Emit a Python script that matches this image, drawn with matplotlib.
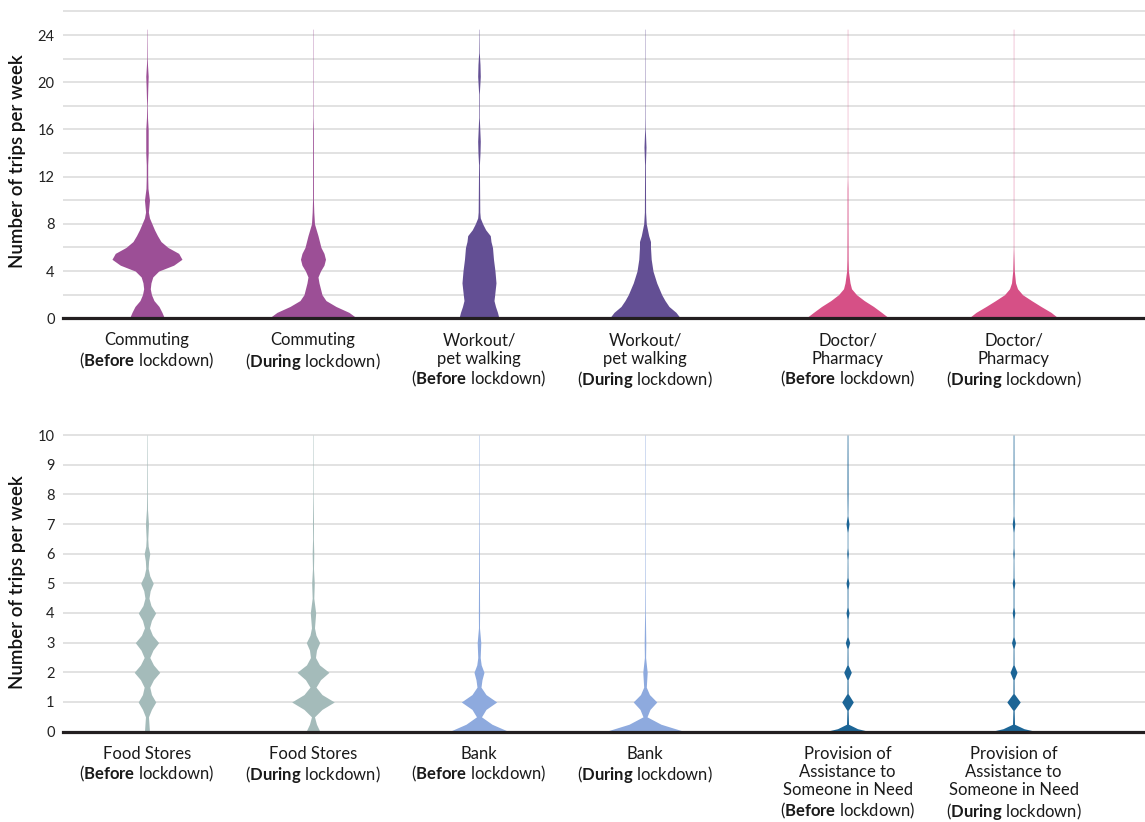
import matplotlib.pyplot as plt
from matplotlib.ticker import MultipleLocator

plt.rcParams["font.family"] = ["Lato", "DejaVu Sans"]
plt.rcParams["mathtext.fontset"] = "custom"
plt.rcParams["mathtext.rm"] = "Lato"
plt.rcParams["mathtext.bf"] = "Lato:bold"

# --- top row: commuting, workout / pet walking, doctor / pharmacy ---
top_labels = [
    "Commuting\n($\\mathbf{Before}$ lockdown)",
    "Commuting\n($\\mathbf{During}$ lockdown)",
    "Workout/\npet walking\n($\\mathbf{Before}$ lockdown)",
    "Workout/\npet walking\n($\\mathbf{During}$ lockdown)",
    "Doctor/\nPharmacy\n($\\mathbf{Before}$ lockdown)",
    "Doctor/\nPharmacy\n($\\mathbf{During}$ lockdown)",
]
top_colors = ["#9c4f96", "#9c4f96", "#634f94", "#634f94", "#d65086", "#d65086"]

# density outlines: trips per week and half-width of the violin
commute_before_y = [0, 0.5, 1, 1.5, 2, 2.5, 3, 3.5, 4, 4.5, 5, 5.5, 6, 6.5, 7, 7.5, 8,
                    8.5, 9, 10, 11, 12, 13, 14, 16, 17, 18, 19.5, 20.5, 21.5, 22, 24.5]
commute_before_w = [17.5, 15, 12, 7, 4.5, 3.3, 4, 5.8, 11.7, 26.7, 35, 31.7, 21, 14, 10.5, 7.5, 5,
                    2.5, 1.4, 2.5, 1, 0.7, 0.7, 1.2, 1.2, 0.5, 0.3, 0.8, 1.2, 0.5, 0.3, 0.15]

commute_during_y = [0, 0.5, 1, 1.5, 2, 3, 3.5, 4, 4.5, 5, 5.5, 6, 7, 8, 9, 10, 16, 17, 24.5]
commute_during_w = [44, 36, 23, 13, 9, 6, 5, 7.5, 11, 12.5, 11, 8, 5, 1.5, 0.8, 0.45, 0.4, 0.2, 0.15]

workout_before_y = [0, 0.5, 1, 1.5, 2, 3, 4, 5, 6, 6.5, 7, 7.5, 8, 8.5, 9, 13,
                    14, 15, 16, 17, 19, 20.5, 21.5, 22.5, 24.5]
workout_before_w = [20, 18.5, 16.5, 15, 15.7, 17, 16, 14.5, 13.5, 12, 11.3, 6.7, 3.7, 1.3, 0.8, 0.4,
                    1.0, 1.3, 0.8, 0.3, 0.3, 1.3, 1.0, 0.3, 0.15]

workout_during_y = [0, 0.5, 1, 1.5, 2, 3, 4, 5, 6, 6.5, 7, 7.5, 8, 9, 13, 14.5, 16, 17, 24.5]
workout_during_w = [35.5, 31, 24, 20, 16.7, 11.7, 8, 6.2, 5.5, 5.5, 3.7, 2.5, 1.3, 0.6, 0.4, 1.0, 0.3, 0.2, 0.15]

doctor_before_y = [0, 0.5, 1, 1.5, 2, 2.5, 3, 4, 5, 8, 11, 12, 24.5]
doctor_before_w = [41.7, 34, 26, 16.7, 9, 4, 2.5, 0.9, 0.6, 0.45, 0.4, 0.15, 0.15]

doctor_during_y = [0, 0.5, 1, 1.5, 2, 2.5, 3, 4, 5, 6, 24.5]
doctor_during_w = [45, 37.5, 27.5, 18, 9, 4, 2, 0.8, 0.5, 0.2, 0.15]

# --- bottom row: food stores, bank, assistance to someone in need ---
bottom_labels = [
    "Food Stores\n($\\mathbf{Before}$ lockdown)",
    "Food Stores\n($\\mathbf{During}$ lockdown)",
    "Bank\n($\\mathbf{Before}$ lockdown)",
    "Bank\n($\\mathbf{During}$ lockdown)",
    "Provision of\nAssistance to\nSomeone in Need\n($\\mathbf{Before}$ lockdown)",
    "Provision of\nAssistance to\nSomeone in Need\n($\\mathbf{During}$ lockdown)",
]
bottom_colors = ["#a4bbba", "#a4bbba", "#8eaade", "#8eaade", "#1c6596", "#1c6596"]

food_before_y = [0, 0.5, 0.75, 1, 1.25, 1.5, 1.75, 2, 2.25, 2.5, 2.75, 3, 3.25, 3.5, 3.75, 4,
                 4.25, 4.5, 4.75, 5, 5.25, 5.5, 5.75, 6, 6.25, 6.5, 7, 7.5, 8, 10]
food_before_w = [2.5, 1.5, 4.5, 8.8, 4.5, 2.8, 6.5, 12.8, 6.5, 2.8, 6, 11.7, 5.5, 2.5, 4.5, 8.7,
                 4, 2, 3.2, 6.3, 2.8, 1.2, 1.6, 2.8, 1.2, 0.8, 1.5, 0.5, 0.35, 0.2]

food_during_y = [0, 0.25, 0.5, 0.75, 1, 1.25, 1.5, 1.75, 2, 2.25, 2.5, 2.75, 3, 3.25, 3.5,
                 4, 4.5, 5, 5.5, 6, 6.5, 7, 8, 10]
food_during_w = [7, 3.5, 1.5, 9, 21.3, 9, 3, 7.5, 16, 6.5, 2.5, 3.5, 6.7, 3, 1.5,
                 2.7, 0.8, 1.3, 0.5, 0.8, 0.4, 0.5, 0.25, 0.2]

bank_before_y = [0, 0.25, 0.5, 0.75, 1, 1.25, 1.5, 1.75, 2, 2.25, 2.5, 3, 3.5, 4, 5, 6, 7, 8, 10]
bank_before_w = [30, 13, 2.5, 7, 17.7, 7, 2, 3, 5, 2.2, 1.2, 1.8, 0.5, 0.6, 0.45, 0.35, 0.25, 0.2, 0.2]

bank_during_y = [0, 0.25, 0.5, 0.75, 1, 1.25, 1.5, 2, 2.5, 3, 4, 5, 7, 10]
bank_during_w = [40, 16, 2, 5, 11.8, 4.5, 1.3, 2.2, 0.6, 0.8, 0.35, 0.25, 0.2, 0.2]

assist_before_y = [0, 0.1, 0.25, 0.72, 1, 1.28, 1.75, 2, 2.25, 2.8, 3, 3.2, 3.8, 4, 4.2,
                   4.8, 5, 5.2, 5.8, 6, 6.2, 6.72, 7, 7.28, 8, 9, 10]
assist_before_w = [22.5, 10, 1.0, 0.6, 5.8, 0.6, 0.5, 3.8, 0.5, 0.4, 2.2, 0.4, 0.4, 1.5, 0.4,
                   0.4, 1.5, 0.4, 0.3, 0.8, 0.3, 0.3, 1.5, 0.3, 0.5, 0.45, 0.35]

assist_during_y = [0, 0.1, 0.25, 0.72, 1, 1.28, 1.75, 2, 2.25, 2.8, 3, 3.2, 3.8, 4, 4.2,
                   4.8, 5, 5.2, 5.8, 6, 6.2, 6.72, 7, 7.28, 8, 9, 10]
assist_during_w = [23.3, 10.5, 1.0, 0.6, 6.7, 0.6, 0.5, 3.5, 0.5, 0.4, 2.0, 0.4, 0.4, 1.3, 0.4,
                   0.4, 1.3, 0.4, 0.3, 0.7, 0.3, 0.3, 1.3, 0.3, 0.4, 0.4, 0.35]

top_profiles = [(commute_before_y, commute_before_w), (commute_during_y, commute_during_w),
                (workout_before_y, workout_before_w), (workout_during_y, workout_during_w),
                (doctor_before_y, doctor_before_w), (doctor_during_y, doctor_during_w)]
bottom_profiles = [(food_before_y, food_before_w), (food_during_y, food_during_w),
                   (bank_before_y, bank_before_w), (bank_during_y, bank_during_w),
                   (assist_before_y, assist_before_w), (assist_during_y, assist_during_w)]

positions = [0, 1, 2, 3, 4.22, 5.22]
px_per_unit = 166.0  # widths above are in pixels of the saved figure

fig = plt.figure(figsize=(11.45, 8.22), dpi=100)
ax_top = fig.add_axes([0.055, 0.6128, 0.945, 0.3819])
ax_bot = fig.add_axes([0.055, 0.1099, 0.945, 0.3627])


def draw_panel(ax, profiles, colors, labels, ymax, major, minor):
    for x, (ys, ws), c in zip(positions, profiles, colors):
        half = [w / px_per_unit for w in ws]
        ax.fill_betweenx(ys, [x - h for h in half], [x + h for h in half],
                         color=c, lw=0, zorder=2)
    ax.set_xlim(-0.506, 6.012)
    ax.set_ylim(0, ymax)
    ax.yaxis.set_major_locator(MultipleLocator(major))
    ax.yaxis.set_minor_locator(MultipleLocator(minor))
    ax.grid(axis="y", which="both", color="#dadada", lw=1.1)
    ax.set_axisbelow(True)
    ax.axhline(0, color="#231f20", lw=2.3, zorder=4, clip_on=False)
    for s in ax.spines.values():
        s.set_visible(False)
    ax.set_xticks([])
    ax.tick_params(axis="y", which="both", length=0, pad=6, labelsize=10.5,
                   labelcolor="#222222")
    ax.set_ylabel("Number of trips per week", fontsize=13.5, fontweight="semibold",
                  color="#111111")
    ax.yaxis.set_label_coords(-0.0345, 0.5)
    for x, lab in zip(positions, labels):
        ax.annotate(lab, (x, 0), xycoords=("data", "axes fraction"),
                    xytext=(0, -10), textcoords="offset points",
                    ha="center", va="top", fontsize=12, color="#1a1a1a",
                    linespacing=1.18)


draw_panel(ax_top, top_profiles, top_colors, top_labels, 26.6, 4, 2)
draw_panel(ax_bot, bottom_profiles, bottom_colors, bottom_labels, 10.05, 1, 1)

fig.savefig("out.png", dpi=100)
